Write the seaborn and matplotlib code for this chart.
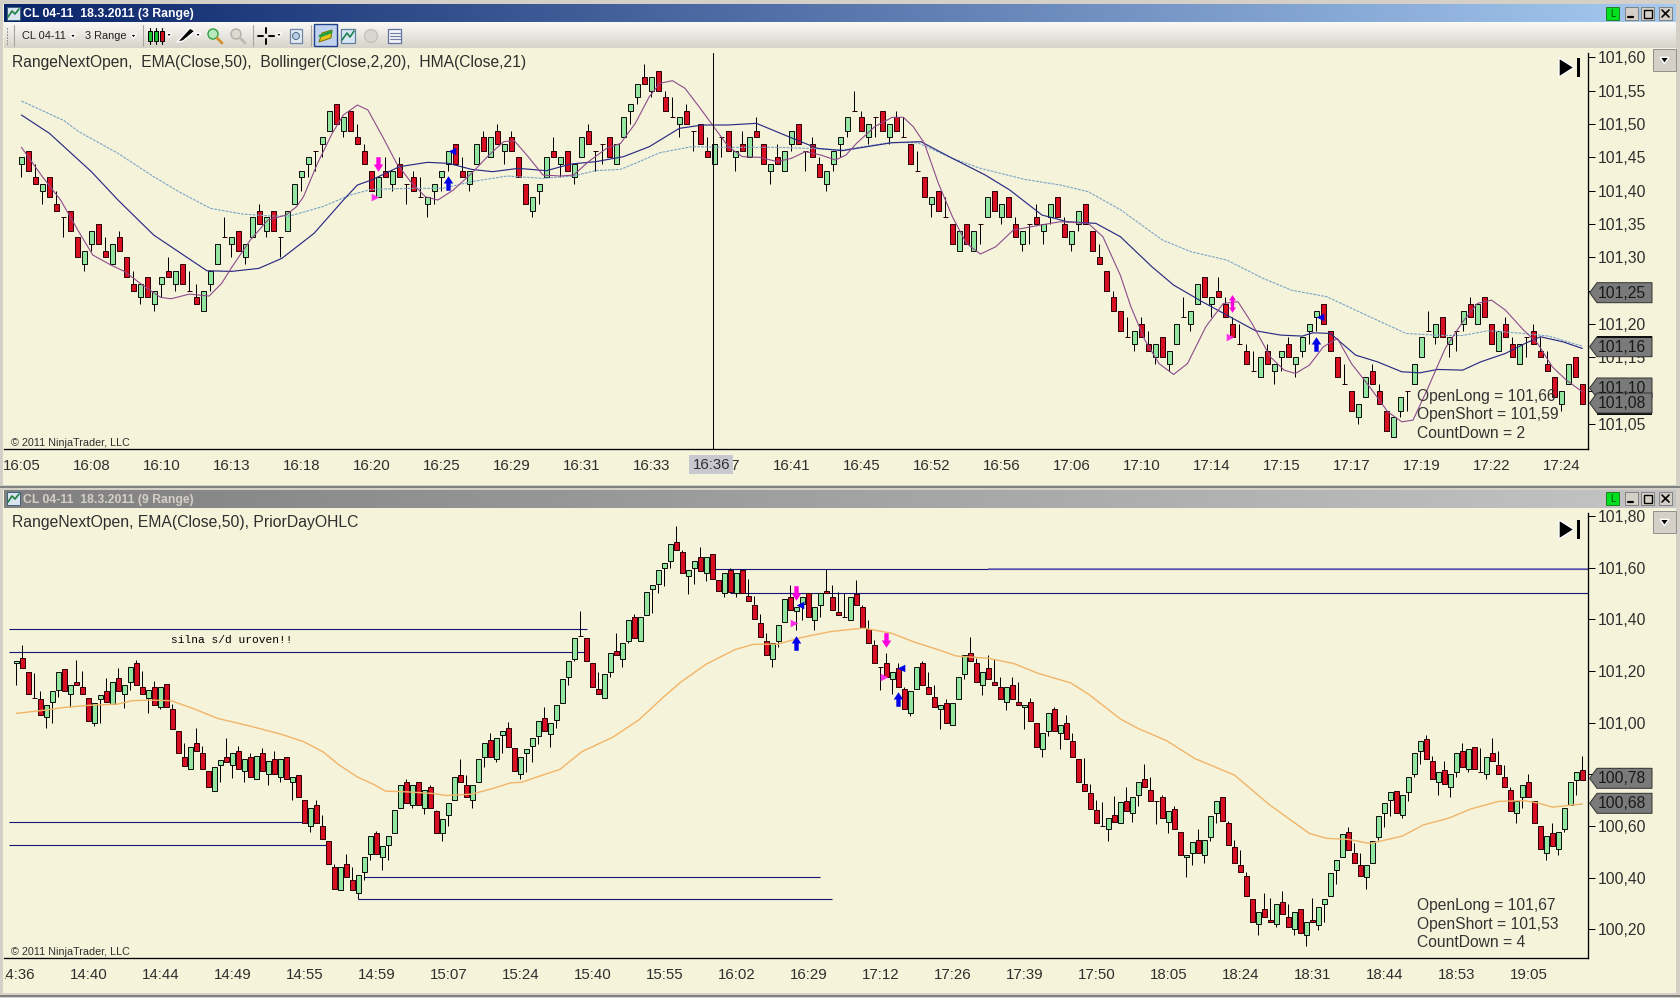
import numpy as np
import pandas as pd
import seaborn as sns
import matplotlib
matplotlib.use("Agg")
import matplotlib.pyplot as plt
from matplotlib.colors import LinearSegmentedColormap
from matplotlib.patches import Rectangle, Polygon, Circle
from matplotlib.path import Path

# Prices are cents above 100.00, so 144 means 101,44

# Upper chart (3 Range) --------------------------------------------------------

top_open = [144,146,142,140,142,138,136,137,133,129,
    132,135,131,129,133,130,126,124,127,123,
    126,128,126,129,125,124,122,126,129,133,
    132,134,130,133,137,134,137,133,134,138,
    142,144,146,147,149,153,149,152,148,146,
    143,139,143,141,144,141,142,139,138,140,
    142,144,147,143,141,144,148,145,149,146,
    148,145,141,137,140,142,146,144,146,142,
    145,149,146,147,148,144,148,152,154,157,
    155,158,154,151,150,152,149,150,146,144,
    148,149,145,147,145,149,147,143,145,143,
    147,150,146,147,144,141,144,147,149,152,
    151,148,151,152,148,151,148,147,143,142,
    138,140,136,135,131,135,131,135,136,140,
    136,139,135,132,135,136,134,136,139,135,
    132,135,138,134,130,128,124,122,118,117,
    120,117,115,118,114,117,121,120,123,127,
    123,125,123,120,117,116,113,112,116,113,
    115,117,114,116,119,121,123,119,115,111,
    110,106,109,113,110,107,103,107,110,111,
    115,119,118,121,117,119,120,123,120,124,
    120,116,120,117,114,118,119,116,114,112,
    108,111,115,111]
top_close = [145,143,141,141,139,137,136,134,130,131,
    134,132,130,132,131,127,125,126,124,125,
    127,127,128,126,125,123,125,128,132,133,
    133,131,132,136,135,136,134,133,137,141,
    143,145,146,148,152,150,151,149,147,144,
    140,142,142,143,142,141,140,139,139,141,
    143,146,144,142,143,147,146,148,147,147,
    146,142,138,139,141,145,145,145,143,144,
    148,147,146,147,145,147,151,153,156,156,
    157,155,152,151,151,150,149,147,145,147,
    148,146,146,146,148,148,144,144,144,146,
    149,147,146,145,142,143,146,148,151,152,
    149,150,151,149,150,149,148,144,143,139,
    139,137,136,132,134,132,134,135,139,137,
    138,136,133,134,135,135,135,138,136,133,
    134,137,135,131,129,125,122,119,118,119,
    118,116,117,115,116,120,121,122,126,124,
    124,124,121,118,117,114,113,115,114,114,
    116,115,115,118,120,122,120,116,112,111,
    107,108,112,111,108,104,106,109,110,114,
    118,119,120,118,118,119,122,121,123,121,
    117,119,118,115,117,118,117,115,113,109,
    110,114,112,108]
top_high = [145,146,144,141,142,140,136,137,133,131,
    134,135,133,132,134,130,128,126,127,125,
    127,130,128,129,128,126,125,128,132,136,
    133,134,132,136,138,136,137,133,137,141,
    143,145,146,148,152,153,151,152,150,147,
    143,142,145,143,145,141,143,142,139,141,
    143,146,147,145,143,147,149,148,150,147,
    149,145,141,139,141,145,148,145,146,144,
    148,150,146,147,148,147,151,153,156,159,
    157,158,155,154,151,153,149,150,148,147,
    148,149,146,149,148,151,147,144,147,146,
    149,150,146,148,145,143,146,148,151,155,
    152,150,151,152,150,152,151,147,146,142,
    139,140,139,135,134,135,134,135,139,140,
    138,139,136,134,135,138,135,138,139,136,
    134,137,138,134,132,128,125,122,121,119,
    121,119,117,118,116,120,124,122,126,127,
    124,127,124,121,120,117,116,115,117,114,
    116,118,115,118,120,122,123,119,115,114,
    110,108,112,114,111,107,106,109,110,114,
    118,122,120,121,118,119,122,124,123,124,
    120,119,121,118,117,118,120,118,116,112,
    110,114,115,111]
top_low = [142,143,141,138,139,137,133,134,130,128,
    131,132,130,129,131,127,125,123,124,122,
    124,127,125,126,125,123,122,125,129,133,
    130,131,129,133,135,133,134,130,134,138,
    140,142,143,145,149,150,148,149,147,144,
    140,139,142,140,142,138,140,139,136,138,
    140,143,144,142,140,144,146,145,147,144,
    146,142,138,136,138,142,145,142,143,141,
    145,147,143,144,145,144,148,150,153,156,
    154,155,152,151,148,150,146,147,145,144,
    145,146,143,146,145,148,144,141,144,143,
    146,147,143,145,142,140,143,145,148,152,
    149,147,148,149,147,149,148,144,143,139,
    136,137,136,132,131,132,131,132,136,137,
    135,136,133,131,132,135,132,135,136,133,
    131,134,135,131,129,125,122,119,118,116,
    118,116,114,115,113,117,121,119,123,124,
    121,124,121,118,117,114,113,112,114,111,
    113,115,112,115,117,119,120,116,112,111,
    107,105,109,111,108,104,103,106,107,111,
    115,119,117,118,115,116,119,121,120,121,
    117,116,118,115,114,115,117,115,113,109,
    107,111,112,108]

ema_top_x = [0,4,10,13.8,18.9,26.5,30,33.9,37.2,41.8,46,48,50,54,58,61,64.3,67.3,71,75,
    78.5,82,86,89.7,94,97.3,100.9,105,109.6,113.7,117.3,120.8,124.4,128.5,133,137.7,141.2,145.8,149.4,153.5,
    157,161.5,164.6,168.7,172.2,176.3,179.9,183,184.5,187,190.6,193.7,197.2,199.8,202.3,205.9,208.5,212,215,217,
    220.2,223]
ema_top_y = [151.35,148.6,142.85,138.6,133.35,128,127.9,128.35,129.85,133.6,138.6,140.85,141.6,143.6,144.25,144.1,143.2,142.85,143.35,143,
    144,144.35,145.1,146.6,149.35,149.85,149.85,150.1,148.1,146.35,146,146.6,147.2,147.35,144.85,142.35,140.1,136.35,135.35,135.1,
    133.1,128.6,125.85,123.35,121.35,119,118.35,118.2,118.7,118.6,115.35,114.35,112.85,112.7,113.2,113.1,114.35,115.6,117.2,118.1,
    117.35,116.35]

band_x = [0,6.1,8.2,13.8,18.9,22.5,27,31.6,35.7,38.3,43,47,50,55.6,60.2,64.3,69.4,74.5,
    78.9,82,85.6,87.7,91.2,95.8,101,107.5,112.7,117.3,123.9,128,133,137,143.3,148.4,152.4,157,
    163,167.1,172.2,177.4,181.4,186.5,191.6,194.7,197.8,202.9,205.9,209.5,214.6,218.2,223]
band_y = [153.45,150.5,148.85,145.6,142.1,139.85,137.35,136.5,136.2,136.2,137.6,139.35,140.2,140.35,140.35,141.35,142.2,141.85,
    142.2,143,143.2,144.1,145.7,146.6,146.5,146.5,146.35,146.1,147.2,147.2,144.85,143.35,141.7,140.85,139.85,137.15,
    132.6,130.85,129.6,126.85,125.1,124.1,121.6,120.1,118.6,118.3,118.3,119,118.6,118.2,116.7]

hma_x = [0,3,5.6,8.2,10.2,12.8,14.8,17.3,19.9,21.4,24,26.8,28.6,30.1,32.7,35.2,37.8,39.3,
    40.3,42.3,44.4,46,48,49.5,51.6,53.6,55.6,57.7,59.5,61.7,64.3,66.8,68.9,70.4,72.4,74.5,77,
    78.9,81,83.6,85.6,87.7,89.7,91.2,93,94.8,96.8,98.9,101,103,105.5,108,110,112,114.2,116.3,117.8,119.3,
    121.9,124.4,126,127.4,129,131,133,135,137,139.2,141.7,144.8,148.4,152.4,154.5,157,
    158.5,160.5,162.5,164.6,166.6,169.2,171.7,173.8,175.8,178.4,180.4,182,184,186,188,190,192.6,195.2,197.2,198.8,
    200.8,203.4,205.9,208,210,212,214.6,216.6,218.7,220.7,223]
hma_y = [146.5,142.1,138.6,133.85,130.35,128.85,127.85,125.85,124,123.8,124.5,124.2,126.1,128.6,132.6,135.6,136.35,137.6,
    139.1,144.1,148.6,151.35,152.85,152.1,148.1,144.1,141.35,139.1,138.6,140.1,142.6,145.35,147.35,147.5,145.1,142.35,142.2,
    142.35,144.35,146.35,147.1,150.1,154.1,156.1,156.5,155.35,152.6,149.6,146.6,145.1,145,144.35,144.85,145.85,145.35,144.6,145.35,147.1,
    149.6,151,151,149.6,147.1,141.1,136.1,132.1,130.5,131.6,134.1,134.7,135.35,135.1,133.1,127.3,
    122.6,117.6,114.1,112.45,114.1,119.6,123.1,123.35,120.1,115.1,113.1,112.6,113.85,116.6,117.85,114.1,110.6,106.85,105.35,105.6,
    110.1,116.35,120.35,123.1,123.6,122.1,119.1,117.1,113.6,111.6,109.85]

top_down_x = [51]
top_down_y = [144.05]
top_up_x = [61, 185]
top_up_y = [141.1, 117.05]
top_right_x = [50.5, 172.6]
top_right_y = [139, 118]
top_left_x = [61.5, 185.5]
top_left_y = [146, 121]
top_double_x = [172.9]
top_double_y = [123.05]

top_yticks = [105,110,115,120,125,130,135,140,145,150,155,160]
top_xlabels = ["16:05","16:08","16:10","16:13","16:18","16:20","16:25","16:29","16:31","16:33","16:37","16:41",
    "16:45","16:52","16:56","17:06","17:10","17:14","17:15","17:17","17:19","17:22","17:24"]
top_tags = ["101,25", "101,16", "101,10", "101,08"]
top_tag_y = [292.7, 346.7, 388, 403]
top_info = ["OpenLong = 101,66", "OpenShort = 101,59", "CountDown = 2"]

# Lower chart (9 Range) --------------------------------------------------------

low_open = [122.9,124.9,119.6,109.6,109,102,108,112.8,120.9,110.9,
    115.9,113.9,109.6,99.8,109,112.1,107.3,117.2,110.9,115.9,
    122.9,113.9,109.6,113.9,105.9,114.8,105.1,96.9,86.8,82,
    92,88.1,81.2,73.7,83.7,86.8,83.7,88.9,81.2,86.8,
    78.1,88.1,80.2,85.8,78.8,86.8,76.9,79.9,69.9,59.8,
    68.1,59.8,54.1,44,35.2,45.3,39,34,42.3,49,
    57.4,48,52.8,57.2,66.8,76.9,68.1,76.9,66.8,75,
    65.6,57.2,64.1,69.9,79.9,76,69.9,76.9,86.8,93.3,
    85.8,95.1,97.8,90,80.2,88.1,90.9,94.9,101.9,95.6,
    101,107.7,117.8,124.8,133.7,132.9,122.9,112.9,109.6,119.6,
    127.8,124.8,131.7,140.9,131.7,141.7,151.8,153.6,160,162.6,
    169.9,165.9,156.9,159.8,164,157.8,165.2,155.2,150,159,
    150,159,149,145.7,138.7,131.7,124.8,131.7,138.9,148.7,
    143.1,146.1,150,139.7,145.7,151,148.7,142.9,140.9,139.9,
    149.8,144.9,136.1,129.9,121.6,122.9,117,121,112.9,103.9,
    112.9,122.9,113.9,109.8,105.1,107.7,98.9,109,118.8,126.8,
    122.9,114.7,121,115.9,113.9,108,114.7,108,105.9,108,
    99.9,89.9,96.9,105.1,95.9,99.9,92.9,85.8,76.2,72.9,
    66.2,59.8,59,64.2,61,69.8,64.9,71.9,78,73.9,
    69.8,71.1,61.5,66.7,57.7,47.8,49.6,54.6,48.9,55.9,
    64.9,71.1,61,51.8,44.8,40.6,31.6,21.9,28,23.7,
    21.9,30.7,24.7,20,28,17.8,23.7,21.7,29.9,33,
    42.9,47.8,57.7,49.4,44.8,40.1,45.8,55.9,64.9,70,
    73.6,64.1,73.1,80.2,89.1,93.7,85,76.9,81.7,75.2,
    81,88.9,81.9,90.7,80.9,80.2,88.1,83.7,78.8,73.9,
    64.9,71.1,76.9,69.8,59.8,49.6,57.2,50.9,58.9,68.1,
    77.9,81.7]
low_close = [123.9,121,110.9,109.6,102.8,106.9,112.1,119.6,112.1,114.7,
    114.7,110.9,100.6,107.5,110.8,108,115.9,112.1,114.7,121.6,
    114.7,110.9,112.5,107,113.9,105.9,97.7,88.1,83.2,90.7,
    88.9,82,75,83,85.5,84.9,88.1,82,85.8,78.8,
    87.1,81.2,85.1,80.2,85.8,78.1,78.8,71.1,61,66.8,
    61,54.9,45.3,35.7,44,40.1,35.2,41,47.9,56,
    49.2,52.2,56,66,76,69,76,68.1,73.9,66.8,
    57.4,62.8,69,78.8,76.9,71.1,76,85.8,92,86.8,
    93.9,96.9,90.7,81.2,86.8,89.9,93.9,100.6,96.9,99.8,
    106.9,117,123.9,132.9,133.7,123.9,113.9,110.9,119,126.8,
    126,130.9,139.9,132.9,140.9,150.6,153.1,159,161.9,169,
    167,157.8,159,162.6,158.8,164,155.8,150.8,157.8,150.6,
    157.8,150,146.9,140,133,126,130.9,137.9,147.9,143.8,
    144.9,148.7,140.9,144.9,150,150,143.6,141.7,140.9,148.7,
    145.7,136.9,130.9,122.9,121.6,117.8,119.6,113.9,105.1,112.1,
    121.6,114.7,110.9,105.9,106.9,99.9,107.7,117.8,126,123.9,
    115.9,119.6,117,114.7,109,113.9,109,106.9,106.9,100.7,
    90.7,95.9,103.9,96.9,98.9,93.7,86.8,76.9,73.6,66.7,
    61,59.8,62.9,61.6,69.4,65.9,71.1,76.9,74.9,69.8,
    69.8,63.1,65.9,58.7,48.9,48.9,53.8,49.4,54.6,63.9,
    69.8,61.8,52.7,45.5,42,33,22.9,26.7,24.7,22.7,
    29.9,25.8,21,26.7,18.5,23,23,28.8,31.6,41.9,
    47,57,50.8,45.8,40.6,44.8,54.2,63.9,68.9,73.1,
    64.9,71.9,78.8,88.1,93,85.8,78.1,81,76.1,80.2,
    88.1,83,89.9,81.9,80.9,86.8,85.1,80.2,74.9,65.9,
    69.8,76,71.1,61,50.9,56,52.2,57.7,66.8,76.9,
    81,77.9]
low_high = [124,130,119.6,119.2,112.1,106.9,112.1,119.6,120.9,114.7,
    124.2,120,109.6,107.5,110.8,117.2,115.9,121,114.7,121.6,
    124.2,120,112.5,116,113.9,114.8,107.2,96.9,92,90.7,
    97.8,91,81.2,83,85.5,93.9,88.1,91,85.8,88.1,
    87.1,90,85.1,88.9,85.8,86.8,78.8,79.9,69.9,66.8,
    70.1,64.2,54.1,45.3,44,49.2,44,41,47.9,56,
    58.1,52.2,56,66,76,78.1,76,76.9,73.9,76,
    66.3,62.8,69,78.8,85.8,79.9,76,85.8,92,95.9,
    93.9,96.9,100.2,90,86.8,89.9,93.9,100.6,105.9,99.8,
    106.9,117,123.9,132.9,143.4,132.9,122.9,119.6,119,126.8,
    134.8,130.9,139.9,142,140.9,150.6,153.1,159,161.9,169,
    176.1,167,159,162.6,168.1,164,165.2,155.2,157.8,160,
    157.8,159,155.8,149,142,134.8,130.9,137.9,147.9,153.2,
    144.9,148.7,150,144.9,150,159.3,153.2,150.6,150,148.7,
    155.2,145.7,139.9,132,121.6,126.8,119.6,122.9,113.9,112.1,
    121.6,124,119.7,114.7,106.9,109,107.7,117.8,126,133,
    125,119.6,126,124.5,117.8,113.9,117.8,115.9,106.9,109.6,
    99.9,95.9,103.9,105.9,98.9,102.9,95.9,85.8,86.4,76.2,
    70,69.4,62.9,71.6,69.4,75.2,71.1,76.9,84,78.8,
    69.8,72,65.9,67.8,57.7,48.9,53.8,59,54.6,63.9,
    69.8,71.1,62,54.6,50.8,42,31.6,26.7,34.2,32,
    29.9,35,29.9,26.7,28,23,32,28.8,31.6,41.9,
    47,57,59.5,53.5,49.4,44.8,54.2,63.9,68.9,73.1,
    73.6,71.9,78.8,88.1,93,95.1,87.1,81,85,80.2,
    88.1,92,89.9,90.7,90,86.8,94,88.9,83.7,74.9,
    69.8,76,80.2,69.8,59.8,56,61,57.7,66.8,76.9,
    81,87.1]
low_low = [114.5,121,110.9,109.6,102.8,97.8,100,110,112.1,106.2,
    114.7,110.9,100.6,98.6,100,108,107.3,112.1,105.7,112.5,
    114.7,110.9,103.9,107,105.1,105.9,97.7,88.1,83.2,82,
    88.9,82,75,73.7,76.9,84.9,78.5,82,76.9,78.8,
    78.1,81.2,76,80.2,76.9,78.1,69.9,71.1,61,57.8,
    61,54.9,45.3,35.7,35.2,40.1,35.2,31.6,38.9,46.9,
    49.2,42.8,46.9,57.2,66.8,69,66.8,68.1,64.7,66.8,
    57.4,54,59.8,69.9,76.9,71.1,66.8,76.9,83,86.8,
    84.9,88.1,90.7,81.2,78.1,80.9,84.9,91.8,96.9,90.7,
    97.8,107.7,114.5,123.9,133.7,123.9,113.9,110.9,109.6,117.7,
    126,121.6,130.9,132.9,131.7,141.7,142.3,150.2,152.9,159.8,
    167,157.8,149.8,153.6,158.8,154.9,155.8,150.8,148.7,150.6,
    148.7,150,146.9,140,133,126,121.6,129.1,138.9,143.8,
    135.8,139.7,140.9,135.8,140.9,150,143.6,141.7,140.9,139.9,
    145.7,136.9,130.9,122.9,112.5,117.8,110.9,113.9,105.1,102.5,
    112.9,114.7,110.9,105.9,97.7,99.9,98.9,109,117,123.9,
    115.9,110.8,117,114.7,109,104.9,109,106.9,97.7,100.7,
    90.7,86.8,95,96.9,89.9,93.7,86.8,76.9,73.6,66.7,
    61,59.8,54,61.6,61,65.9,61.5,67.8,74.9,69.8,
    60.8,63.1,57.1,58.7,48.9,40.1,44.8,49.4,45.5,54.2,
    61,61.8,52.7,45.5,42,33,22.9,17.8,24.7,22.7,
    20.9,25.8,21,17.8,18.5,13.4,23,19.9,22.9,33,
    37.5,47.8,50.8,45.8,40.6,35.7,45.8,54.6,59.7,63.9,
    64.9,62.9,69.8,78.8,83.8,85.8,78.1,71.9,76.1,71.1,
    78.8,83,81,81.9,80.9,78.1,85.1,80.2,74.9,65.9,
    61,66.8,71.1,61,50.9,47,52.2,48.9,57.7,68.1,
    71.9,77.9]

ema_low_x = [0,5,8,12.1,16.9,19.3,22.3,25.8,29.4,33.6,38.9,44.3,47.9,51.1,53.8,56.8,59.8,61.5,65.1,69.3,71.7,75.8,79.4,82.4,84.2,87.7,90.6,
    94.2,99.5,103.7,107.9,110.8,115,119.8,122.8,126.9,130.9,135.8,141.2,145.9,149.5,154.2,156.6,162,166.2,170.4,175.7,178.7,184,
    186.9,191.7,196.4,203,208.9,215.5,218.4,222,225.6,231,234.5,238.7,242.3,247,251.2,253.6,256,261]
ema_low_y = [103.6,104.9,105.9,106.7,107.2,108.5,108.7,108.5,105.5,101.6,98.7,95.4,92.6,88.7,83.6,79,75.8,73.5,73.2,72.6,71.8,72.3,74.5,76.7,76.9,79.7,81.9,
    88.7,94.5,101,110,115.8,122.7,128.3,130.3,130.4,133,135.3,136.6,134.6,131.3,127.8,125.8,124.9,122.9,119,115.4,111,101.4,
    97.8,93,86.1,79.7,68.1,57.1,55.2,54.8,53.2,56.1,60.4,63,66.5,69.5,69.8,68.9,67.3,68.5]

level_y = [136.1, 127.2, 61.5, 52.8, 40.3, 31.6, 159.4, 150.1]
level_from = [-1.2, -1.2, -1.2, -1.2, 58, 57, 115, 119]
level_to = [95.1, 94.9, 48.7, 51.7, 134, 136, 262, 262]

low_down_x = [129.9, 144.9]
low_down_y = [150.1, 132.1]
low_up_x = [129.9, 147]
low_up_y = [131, 109.1]
low_right_x = [129.6, 144.6]
low_right_y = [138.7, 117.8]
low_left_x = [130.6, 147.5]
low_left_y = [145.5, 121]

low_yticks = [20,40,60,80,100,120,140,160,180]
low_xlabels = ["14:36","14:40","14:44","14:49","14:55","14:59","15:07","15:24","15:40","15:55","16:02","16:29",
    "17:12","17:26","17:39","17:50","18:05","18:24","18:31","18:44","18:53","19:05"]
low_tags = ["100,78", "100,68"]
low_tag_y = [778.3, 803.3]
low_info = ["OpenLong = 101,67", "OpenShort = 101,53", "CountDown = 4"]

# Styles -----------------------------------------------------------------------

W, H = 1680, 998
BG = "#F5F4DA"
FRAME = "#D4D0C8"
GREEN = "#93E69F"
RED = "#D80F20"
TXT = "#2E2E2E"
PX = 0.72  # one pixel in points

sns.set_style("white")
plt.rcParams["font.family"] = ["Liberation Sans", "DejaVu Sans"]


def price(v):
    return 100 + np.asarray(v, dtype = float) / 100


def ticklabel(v):
    return f"{price(v):.2f}".replace(".", ",")


# arrow pointing up, the down one is its mirror
arrow_v = [(-0.3, -1), (0.3, -1), (0.3, 0), (0.65, 0), (0, 1), (-0.65, 0), (-0.3, 0), (-0.3, -1)]
ARROW_UP = Path(arrow_v)
ARROW_DOWN = Path([(x, -y) for x, y in arrow_v])


def make_axes(fig, y0, y1):
    ax = fig.add_axes([4 / W, 1 - y1 / H, (1588.2 - 4) / W, (y1 - y0) / H])
    ax.set_facecolor(BG)
    ax.spines[["left", "top"]].set_visible(False)
    ax.spines[["right", "bottom"]].set_linewidth(0.95)
    ax.spines[["right", "bottom"]].set_color("black")
    ax.yaxis.tick_right()
    ax.tick_params(axis = "y", length = 5, width = PX, pad = 1.8, labelsize = 11.3, labelcolor = TXT, color = "black")
    ax.tick_params(axis = "x", length = 5, width = PX, pad = 1.8, labelsize = 10.8, labelcolor = TXT, color = "black")
    return ax


def draw_candles(ax, opens, closes, highs, lows, width):
    df = pd.DataFrame({"open": price(opens), "close": price(closes), "high": price(highs), "low": price(lows)})
    df["i"] = np.arange(len(df))
    ax.vlines(df["i"], df["low"], df["high"], color = "black", lw = PX, zorder = 2)
    up = df["close"] > df["open"]
    ax.bar(df["i"][up], (df["close"] - df["open"])[up], bottom = df["open"][up], width = width,
        color = GREEN, edgecolor = "#101010", linewidth = PX, zorder = 3)
    ax.bar(df["i"][~up], (df["close"] - df["open"])[~up], bottom = df["open"][~up], width = width,
        color = RED, edgecolor = "#300008", linewidth = PX, zorder = 3)


def draw_line(ax, xs, ys, color, lw, ls = "-"):
    sns.lineplot(x = xs, y = price(ys), ax = ax, color = color, linewidth = lw, linestyle = ls,
        estimator = None, sort = False, zorder = 4, legend = False)


def draw_marks(ax, xs, ys, marker, color, size):
    sns.scatterplot(x = xs, y = price(ys), ax = ax, marker = marker, color = color, s = size,
        linewidth = 0, zorder = 5, legend = False)


def gradient(ov, x0, x1, y0, y1, c0, c1, vertical = False):
    cmap = LinearSegmentedColormap.from_list("g", [c0, c1])
    ramp = np.linspace(0, 1, 256).reshape(-1, 1) if vertical else np.linspace(0, 1, 256).reshape(1, -1)
    ov.imshow(ramp, extent = (x0, x1, y1, y0), cmap = cmap, aspect = "auto", origin = "upper", zorder = 1)


def rect(ov, x0, y0, x1, y1, fc, ec = "none", lw = 0.7, z = 2):
    ov.add_patch(Rectangle((x0, y0), x1 - x0, y1 - y0, facecolor = fc, edgecolor = ec, linewidth = lw, zorder = z))


def small_down(ov, x, y, s = 3):
    ov.add_patch(Polygon([(x - s, y - s * 0.6), (x + s, y - s * 0.6), (x, y + s * 0.8)], facecolor = "black", zorder = 3))


def price_tag(ov, y, label, shadow = 0):
    pts = [(1589.6, y), (1597, y - 10), (1652, y - 10), (1652, y + 10), (1597, y + 10)]
    if shadow:
        rect(ov, 1597, y - 10 + shadow, 1652, y + 10 + shadow, "#101010", z = 3)
    ov.add_patch(Polygon(pts, facecolor = "#7A7A7A", edgecolor = "#303030", linewidth = 0.7, zorder = 3))
    ov.text(1646, y + 0.5, label, ha = "right", va = "center", fontsize = 11.3, color = "#1A1A1A", zorder = 4)


def window_controls(ov, y0):
    rect(ov, 1606, y0, 1619, y0 + 13, "#00E020", "#208020")
    ov.text(1612.5, y0 + 6.5, "L", ha = "center", va = "center", fontsize = 7, color = "#005000", zorder = 4)
    for x0 in [1625, 1641, 1659]:
        rect(ov, x0, y0, x0 + 13, y0 + 13, FRAME, "#808080")
    ov.plot([1628, 1633], [y0 + 10, y0 + 10], color = "black", lw = 1.6, zorder = 4)
    rect(ov, 1644, y0 + 2.5, 1652, y0 + 10.5, "none", "black", 1.0, 4)
    ov.plot([1662, 1669], [y0 + 3, y0 + 10], color = "black", lw = 1.2, zorder = 4)
    ov.plot([1662, 1669], [y0 + 10, y0 + 3], color = "black", lw = 1.2, zorder = 4)


def title_icon(ov, y0):
    rect(ov, 7, y0 + 1, 20, y0 + 14, "#D8E4F0", "#406080")
    ov.plot([8, 12, 15, 19], [y0 + 11, y0 + 5, y0 + 8, y0 + 3], color = "#208040", lw = 1.2, zorder = 4)


def right_icons(ov, y0):
    ov.add_patch(Polygon([(1559, y0), (1574, y0 + 9.5), (1559, y0 + 19)], facecolor = "black", zorder = 3))
    rect(ov, 1577, y0, 1580, y0 + 19, "black")
    rect(ov, 1653, y0 - 9, 1676, y0 + 13, FRAME, "#909090")
    small_down(ov, 1664.5, y0 + 2, 4.5)


def info_block(ov, lines, ys):
    for line, y in zip(lines, ys):
        ov.text(1417, y, line, ha = "left", va = "center", fontsize = 11.25, color = "#333333", zorder = 6)


fig = plt.figure(figsize = (W / 100, H / 100), dpi = 100, facecolor = BG)

# Upper chart ------------------------------------------------------------------

ax1 = make_axes(fig, 53, 449.3)
draw_candles(ax1, top_open, top_close, top_high, top_low, 0.66)
draw_line(ax1, band_x, band_y, "#7BA3C8", 0.8, (0, (2.5, 1)))
draw_line(ax1, ema_top_x, ema_top_y, "#2B2B85", 0.85)
draw_line(ax1, hma_x, hma_y, "#8E4A8C", 0.8)
draw_marks(ax1, top_down_x, top_down_y, ARROW_DOWN, "#FF00E0", 110)
draw_marks(ax1, top_up_x, top_up_y, ARROW_UP, "#0000E8", 110)
draw_marks(ax1, top_right_x, top_right_y, ">", "#FF30E8", 30)
draw_marks(ax1, top_left_x, top_left_y, "<", "#0000E8", 30)
draw_marks(ax1, top_double_x, [v + 0.5 for v in top_double_y], ARROW_UP, "#FF00E0", 60)
draw_marks(ax1, top_double_x, [v - 0.5 for v in top_double_y], ARROW_DOWN, "#FF00E0", 60)
ax1.axvline(98.73, color = "black", lw = PX, zorder = 6)
ax1.set_xlim((4 - 21.4) / 7, (1588.2 - 21.4) / 7)
ax1.set_ylim(101.60 - (449.3 - 57.3) / 667, 101.60 + (57.3 - 53) / 667)
ax1.set_xticks(np.arange(len(top_xlabels)) * 10, top_xlabels)
ax1.set_yticks(price(top_yticks), [ticklabel(v) for v in top_yticks])
ax1.set_xlabel("")
ax1.set_ylabel("")

# Lower chart ------------------------------------------------------------------

ax2 = make_axes(fig, 513, 958.3)
draw_candles(ax2, low_open, low_close, low_high, low_low, 0.76)
for y, x0, x1 in zip(level_y, level_from, level_to):
    ax2.hlines(price(y), x0, x1, color = "#14147A", lw = 0.8, zorder = 1.5)
ax2.hlines(price(level_y[6]), 162, 262, color = "#6A62B4", lw = 1.1, zorder = 1.6)
draw_line(ax2, ema_low_x, ema_low_y, "#F2B468", 1.0)
draw_marks(ax2, low_down_x, low_down_y, ARROW_DOWN, "#FF00E0", 110)
draw_marks(ax2, low_up_x, low_up_y, ARROW_UP, "#0000E8", 110)
draw_marks(ax2, low_right_x, low_right_y, ">", "#FF30E8", 30)
draw_marks(ax2, low_left_x, low_left_y, "<", "#0000E8", 30)
ax2.set_xlim((4 - 16.4) / 6, (1588.2 - 16.4) / 6)
ax2.set_ylim(101.80 - (958.3 - 516) / 258.3, 101.80 + (516 - 513) / 258.3)
ax2.set_xticks(np.arange(len(low_xlabels)) * 12, low_xlabels)
ax2.set_yticks(price(low_yticks), [ticklabel(v) for v in low_yticks])
ax2.set_xlabel("")
ax2.set_ylabel("")

# Window chrome and texts, in pixels of the picture ----------------------------

ov = fig.add_axes([0, 0, 1, 1], zorder = 10)
ov.patch.set_visible(False)
ov.axis("off")

# frames
rect(ov, 0, 0, W, 4, FRAME)
rect(ov, 0, 0, 3, H, FRAME)
rect(ov, 3, 962, 5, 990, BG)
rect(ov, 1676, 0, W, H, FRAME)
rect(ov, 0, 993, W, H, FRAME)
rect(ov, 0, 485, W, 490, FRAME)
ov.plot([0, W], [486.5, 486.5], color = "#707070", lw = 1.2, zorder = 3)
ov.plot([0, W], [995.5, 995.5], color = "#707070", lw = 1.2, zorder = 3)

# title bars
gradient(ov, 4, 1676, 4, 22, "#0A246A", "#A6CAF0")
gradient(ov, 4, 1676, 490, 508, "#808080", "#C4C4C4")
title_icon(ov, 6)
title_icon(ov, 491)
ov.text(23, 13.5, "CL 04-11  18.3.2011 (3 Range)", fontsize = 8.8, fontweight = "bold", color = "white", va = "center", zorder = 4)
ov.text(23, 499.5, "CL 04-11  18.3.2011 (9 Range)", fontsize = 8.8, fontweight = "bold", color = "#D4D0C8", va = "center", zorder = 4)
window_controls(ov, 7)
window_controls(ov, 492)

# toolbar
gradient(ov, 4, 1676, 22, 48, "#FBFAF6", "#D6D3CA", vertical = True)
for y in range(28, 44, 3):
    rect(ov, 6.5, y, 8, y + 1.5, "#9A978E")
for x in [14, 143, 253, 311]:
    ov.plot([x, x], [25, 46], color = "#A8A59C", lw = 0.8, zorder = 3)
ov.text(22, 36, "CL 04-11", fontsize = 7.9, color = "#222222", va = "center", zorder = 4)
small_down(ov, 73, 36, 3)
ov.text(85, 36, "3 Range", fontsize = 7.9, color = "#222222", va = "center", zorder = 4)
small_down(ov, 133.5, 36, 3)
for x, col in zip([150, 156, 162], ["#18C030", "#18C030", "#D01018"]):
    ov.plot([x, x], [28, 44], color = "black", lw = 0.8, zorder = 3)
    rect(ov, x - 2, 31, x + 2, 41, col, "black", 0.7, 4)
small_down(ov, 169, 35, 2.8)
ov.add_patch(Polygon([(177, 42), (190, 28), (195, 31), (183, 41)], facecolor = "black", zorder = 4))
small_down(ov, 198, 35, 2.8)
ov.add_patch(Circle((213, 34), 5, facecolor = "#B8E8C0", edgecolor = "#30A040", linewidth = 1, zorder = 4))
ov.plot([217, 222], [38, 43], color = "#D09030", lw = 2, zorder = 4)
ov.add_patch(Circle((236, 34), 5, facecolor = "#DDDBD2", edgecolor = "#B0AEA6", linewidth = 1, zorder = 4))
ov.plot([240, 245], [38, 43], color = "#BDBBB3", lw = 2, zorder = 4)
ov.plot([258, 263], [36, 36], color = "black", lw = 1.4, zorder = 4)
ov.plot([269, 274], [36, 36], color = "black", lw = 1.4, zorder = 4)
ov.plot([266, 266], [28, 33], color = "black", lw = 1.4, zorder = 4)
ov.plot([266, 266], [39, 44], color = "black", lw = 1.4, zorder = 4)
small_down(ov, 279, 35, 2.8)
rect(ov, 290, 29, 302, 43, "#E4EAF2", "#7088A8", 0.9, 4)
ov.add_patch(Circle((296, 36), 3.5, facecolor = "#B8CCE4", edgecolor = "#507090", linewidth = 0.7, zorder = 5))
rect(ov, 314, 24, 337, 46, "#C1D2EE", "#20408A", 1.0, 3)
ov.add_patch(Polygon([(319, 42), (322, 33), (332, 30), (331, 38)], facecolor = "#E8C020", edgecolor = "#707000", linewidth = 0.7, zorder = 4))
ov.plot([320, 331], [36, 32], color = "#20A040", lw = 2, zorder = 5)
rect(ov, 341, 29, 355, 43, "#D8E6F4", "#6080A0", 0.9, 4)
ov.plot([342, 347, 350, 354], [40, 33, 37, 31], color = "#208050", lw = 1.2, zorder = 5)
ov.add_patch(Circle((371, 36), 6.5, facecolor = "#D8D6CE", edgecolor = "#C4C2BA", linewidth = 1, zorder = 4))
rect(ov, 388, 29, 401, 43, "#F4F4F8", "#6070A0", 0.9, 4)
for y in [33, 36, 39]:
    ov.plot([389.5, 399.5], [y, y], color = "#7080A8", lw = 0.8, zorder = 5)

# chart captions
ov.text(12, 62.5, "RangeNextOpen,  EMA(Close,50),  Bollinger(Close,2,20),  HMA(Close,21)", fontsize = 11.27, color = TXT, va = "center", zorder = 6)
ov.text(12, 523, "RangeNextOpen, EMA(Close,50), PriorDayOHLC", fontsize = 11.38, color = TXT, va = "center", zorder = 6)
ov.text(11, 443, "\u00a9 2011 NinjaTrader, LLC", fontsize = 7.75, color = TXT, va = "center", zorder = 6)
ov.text(11, 952.3, "\u00a9 2011 NinjaTrader, LLC", fontsize = 7.75, color = TXT, va = "center", zorder = 6)
ov.text(232, 640, "silna s/d uroven!!", family = "Liberation Mono", fontsize = 8.1, color = "black", ha = "center", va = "center", zorder = 6)
info_block(ov, top_info, [397, 415, 433])
info_block(ov, low_info, [905.3, 924.3, 942.3])

right_icons(ov, 58)
right_icons(ov, 520)

for y, label, sh in zip(top_tag_y, top_tags, [0, 0, 0, 1.5]):
    price_tag(ov, y, label, sh)
rect(ov, 1597, 335.5, 1652, 337.5, "#101010", z = 4)
for y, label in zip(low_tag_y, low_tags):
    price_tag(ov, y, label)

# crosshair time box
rect(ov, 688.6, 455, 733, 474, "#C8C8D0")
ov.text(712, 464.8, "16:36", fontsize = 10.8, color = TXT, ha = "center", va = "center", zorder = 4)

ov.set_xlim(0, W)
ov.set_ylim(H, 0)

fig.savefig("out.png", dpi = 100, facecolor = fig.get_facecolor())
